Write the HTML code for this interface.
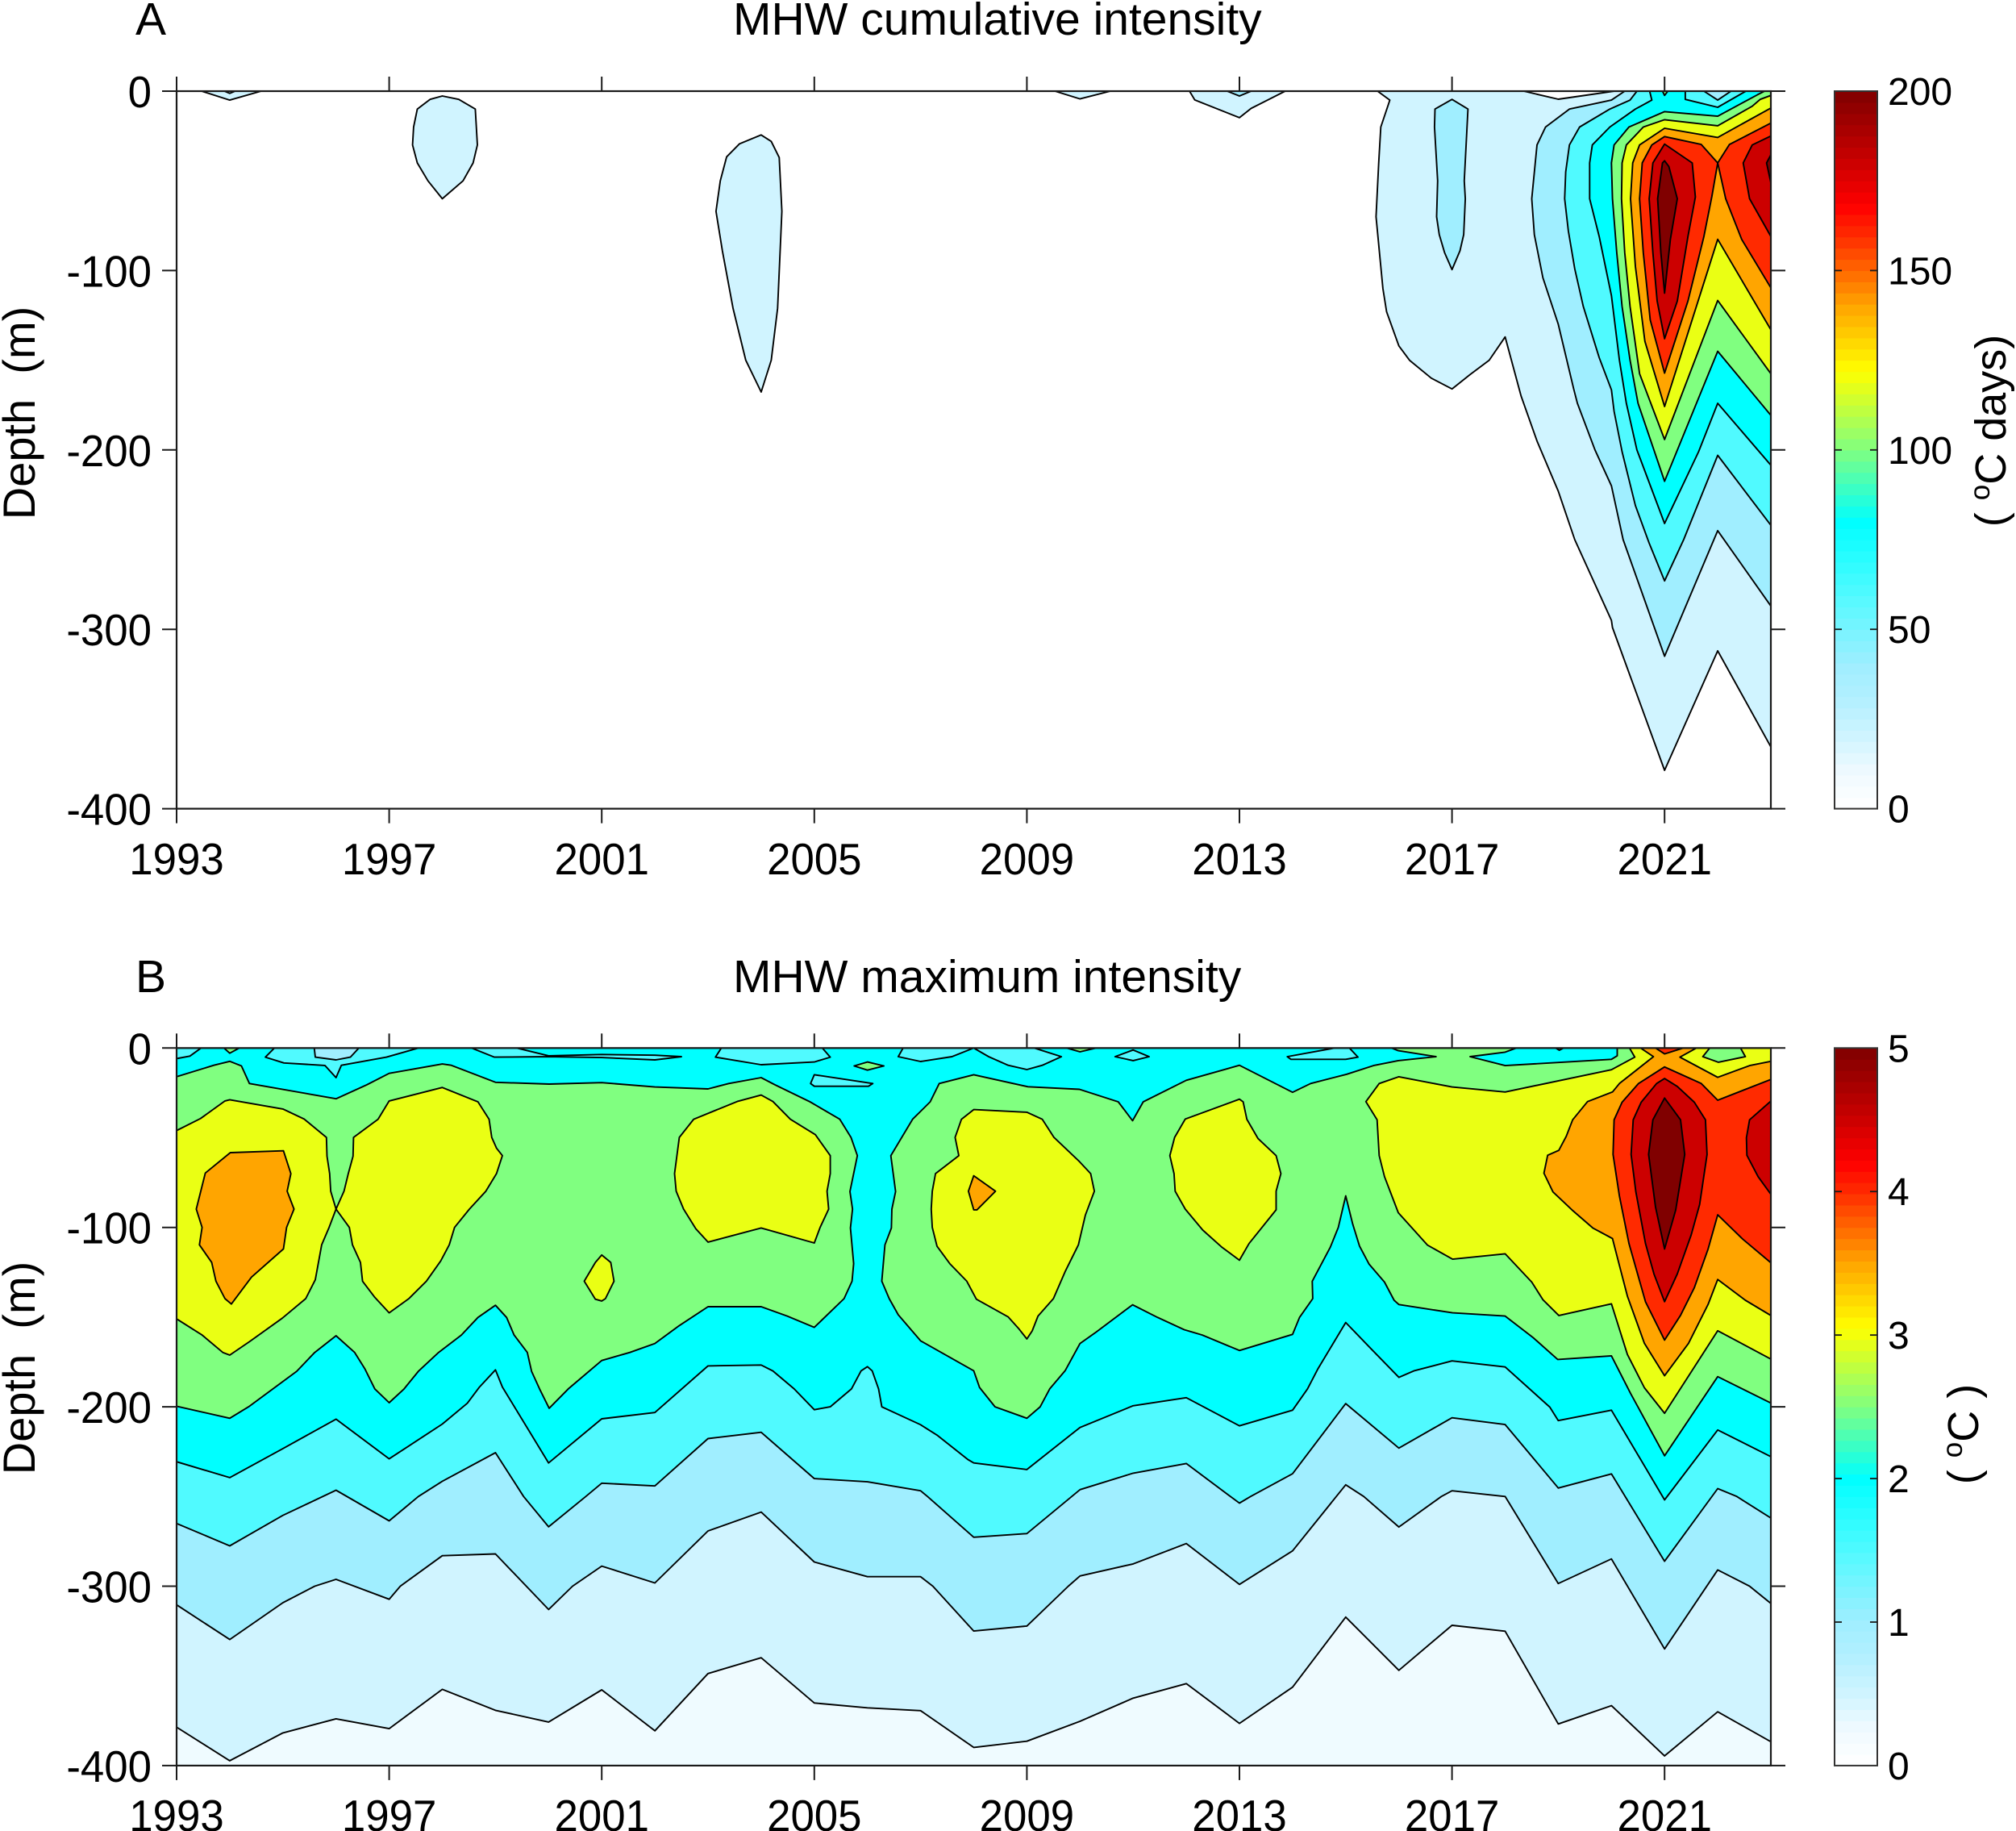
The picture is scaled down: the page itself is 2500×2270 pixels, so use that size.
<!DOCTYPE html>
<html lang="en">
<head>
<meta charset="utf-8">
<title>MHW cumulative and maximum intensity</title>
<style>
html,body{margin:0;padding:0;background:#fff;}
svg{display:block;font-family:"Liberation Sans",Arial,sans-serif;fill:#000;}
</style>
</head>
<body>
<svg id="figure" width="2500" height="2270" viewBox="0 0 2500 2270">
  <rect x="0" y="0" width="2500" height="2270" fill="#ffffff"/>
  <defs>
    <clipPath id="clip-a"><rect x="219" y="113" width="1977" height="889.6"/></clipPath>
    <clipPath id="clip-b"><rect x="219" y="1299.3" width="1977" height="889.6"/></clipPath>
  </defs>
  <g id="panel-a"></g>
  <g id="panel-b"></g>
  <text x="168" y="43" font-size="57">A</text>
  <text x="909" y="43" font-size="57">MHW cumulative intensity</text>
  <text x="168" y="1230" font-size="57">B</text>
  <text x="909" y="1230" font-size="57">MHW maximum intensity</text>
  <text transform="translate(43,512) rotate(-90)" text-anchor="middle" font-size="56">Depth&#160;&#160;(m)</text>
  <text transform="translate(43,1696) rotate(-90)" text-anchor="middle" font-size="56">Depth&#160;&#160;(m)</text>
  <text transform="translate(2487,534) rotate(-90)" text-anchor="middle" font-size="54">(&#160;<tspan dy="-20" font-size="35">o</tspan><tspan dy="20">C days)</tspan></text>
  <text transform="translate(2453,1778) rotate(-90)" text-anchor="middle" font-size="54">(&#160;<tspan dy="-20" font-size="35">o</tspan><tspan dy="20">C )</tspan></text>
</svg>
<script>
// ---------- axis data ----------
const yearTicks = [1993, 1997, 2001, 2005, 2009, 2013, 2017, 2021];
const depthTicks = [0, 100, 200, 300, 400];
const depthTickLabels = ['0', '-100', '-200', '-300', '-400'];
const colorbarTicksA = [0, 50, 100, 150, 200];
const colorbarTicksB = [0, 1, 2, 3, 4, 5];
const contourFills = ['#D0F4FF', '#A0EEFF', '#50FAFF', '#00FFFF', '#80FF80', '#EAFF14', '#FFA500', '#FF2A00', '#CC0000', '#800000'];
const colormapStops = [0, 0.05, 0.1, 0.15, 0.2, 0.3, 0.4, 0.5, 0.61, 0.7, 0.8, 0.84, 0.9, 1];
const colormapColors = ['#FFFFFF', '#F0FAFF', '#D0F4FF', '#B4F0FF', '#A0EEFF', '#50FAFF', '#00FFFF', '#80FF80', '#FFFF00', '#FFA500', '#FF2A00', '#FF0000', '#CC0000', '#7F0000'];

// ---------- panel A contours: flat [year, depth, ...] ----------
const a20 = [2015.6,0, 2015.83,5, 2015.66,20, 2015.62,40, 2015.57,70, 2015.7,110, 2015.77,123, 2016,142, 2016.2,150, 2016.61,160, 2017,166, 2017.34,158, 2017.7,150, 2018,137, 2018.3,170, 2018.6,195, 2019,223, 2019.31,250, 2020,295, 2020.02,299, 2021,378.6, 2022,312, 2023,365.5, 2023,0, 2020.05,0, 2019,4.5, 2018.35,0];
const a20Isle1994 = [1993.47,0, 1994,5, 1994.59,0];
const a20Isle1998 = [1998,2.7, 1997.77,4.6, 1997.53,10, 1997.46,20, 1997.44,30, 1997.53,40, 1997.73,50, 1998,60, 1998.39,50, 1998.58,40, 1998.66,30, 1998.62,10, 1998.31,4.6];
const a20Isle2004 = [2004,24.4, 2003.59,29.4, 2003.35,36.6, 2003.23,50, 2003.15,67, 2003.27,89, 2003.47,121, 2003.71,150, 2004,167.7, 2004.19,150, 2004.31,121, 2004.39,67, 2004.34,37, 2004.19,28];
const a20Isle2010 = [2009.53,0, 2010,4.3, 2010.57,0];
const a20Isle2013 = [2012.06,0, 2012.16,4.9, 2013,14.8, 2013.22,9.6, 2013.86,0];
const a40 = [2020.25,0, 2020,5, 2019.21,10, 2018.76,20, 2018.6,30, 2018.5,60, 2018.55,80, 2018.71,104, 2019,130, 2019.29,166, 2019.36,174, 2019.69,200, 2020,220, 2020.22,250, 2021,315, 2022,245, 2023,287, 2023,0];
const a40Isle1994 = [1993.9,0, 1994,1.2, 1994.1,0];
const a40Isle2013 = [2012.77,0, 2013,2.7, 2013.22,0];
const a40Isle2017 = [2017,4.6, 2016.68,10, 2016.67,20, 2016.73,50, 2016.71,70, 2016.76,80, 2016.86,90, 2017,99.5, 2017.15,89, 2017.22,80, 2017.25,60, 2017.23,50, 2017.3,10];
const a60 = [2020.48,0, 2020.35,5, 2019.97,10, 2019.4,20, 2019.21,30, 2019.14,45, 2019.12,60, 2019.19,78, 2019.31,99, 2019.47,120, 2019.77,148.5, 2020,166.5, 2020.05,178.5, 2020.2,201, 2020.45,231, 2020.71,252, 2021,273, 2021.36,250, 2022,203, 2023,242, 2023,0, 2022.25,0, 2022,5, 2021.74,0];
const a80 = [2020.72,0, 2020.76,5, 2020.45,10, 2019.97,20, 2019.64,30, 2019.59,40, 2019.59,60, 2019.77,81, 2020,114, 2020.15,150, 2020.28,174, 2020.48,200, 2021,241, 2021.64,201, 2022,174, 2023,208.5, 2023,0, 2022.53,0, 2022,9, 2021.39,4.6, 2021.39,0];
const a100 = [2021,11.4, 2020.33,20, 2020.05,30, 2020,40, 2020.02,60, 2020.1,90, 2020.2,120, 2020.35,150, 2020.5,174, 2021,217.5, 2022,145, 2023,180.7, 2023,0, 2022.88,0, 2022.75,2, 2022,14];
const a100Isle2021 = [2020.96,0, 2021,2.4, 2021.06,0];
const a120 = [2021,15.9, 2020.6,20, 2020.28,30, 2020.2,40, 2020.19,60, 2020.25,90, 2020.35,120, 2020.53,157.5, 2021,194.2, 2022,116.7, 2023,157.5, 2023,2.4, 2022.8,4.6, 2022.65,8.4, 2022,19.3];
const a140 = [2021,20.7, 2020.53,30, 2020.4,40, 2020.36,60, 2020.45,97.6, 2020.63,139.5, 2021,175.8, 2022,82.6, 2023,133, 2023,9.4, 2022,25.8];
const a160Left = [2021,25.3, 2020.76,30, 2020.58,40, 2020.53,60, 2020.6,90, 2020.73,127.5, 2021,157.2, 2021.44,117, 2021.74,81, 2021.89,58.6, 2022,40, 2021.69,29.7];
const a160Right = [2022,40, 2022.15,60, 2022.45,82.6, 2023,109.6, 2023,17.8, 2022.22,29.7];
const a180Left = [2021,29.5, 2020.78,40, 2020.71,60, 2020.78,90, 2020.86,117, 2021,138, 2021.24,117, 2021.44,81, 2021.58,59, 2021.52,40];
const a180Right = [2022.65,30, 2022.48,40, 2022.6,60, 2023,81, 2023,25];
const a200Left = [2021,38.8, 2021.08,42, 2021.24,60, 2021.11,82.6, 2021,112.6, 2020.93,90, 2020.87,60, 2020.96,40];
const a200Right = [2022.92,40, 2023,35.5, 2023,51];

// ---------- panel B contours: flat [year, depth, ...] ----------
const b05 = [1993,378.6, 1994,397.3, 1995,381.8, 1996,373.9, 1997,379.4, 1998,357.5, 1999,369.2, 2000,375.7, 2001,357.8, 2002,380.6, 2003,348.7, 2004,339.9, 2005,365.1, 2006,367.8, 2007,369.4, 2008,389.9, 2009,386.4, 2010,375.3, 2011,362.4, 2012,354.3, 2013,376.5, 2014,356.3, 2015,317.2, 2016,346.9, 2017,321.8, 2018,325.1, 2019,376.8, 2020,366.6, 2021,394.6, 2022,370, 2023,386.7];
const b10 = [1993,310.4, 1994,329.7, 1995,309.2, 1995.6,300, 1996,296.2, 1997,307.3, 1997.21,300, 1998,283, 1999,282, 2000,313, 2000.45,300, 2001,288.8, 2002,298.2, 2003,269.2, 2004,258.7, 2005,286.5, 2006,294.7, 2007,294.7, 2007.23,300, 2008,325, 2009,322.2, 2009.78,300, 2010,294.3, 2011,287.6, 2012,276.2, 2013,299, 2014,280.3, 2015,243.5, 2015.34,250, 2016,267, 2016.8,250, 2017,246.8, 2018,250, 2019,298.5, 2020,284.8, 2021,335, 2022,290.9, 2022.6,300, 2023,309.6];
const b15 = [1993,265, 1994,277.5, 1995,260.5, 1996,246.5, 1997,263.6, 1997.55,250, 1998,241.5, 1999,225.6, 1999.53,250, 2000,266.9, 2000.7,250, 2001,242.6, 2002,244.1, 2003,217.7, 2004,214.2, 2005,240, 2006,241.8, 2007,246.8, 2007.13,250, 2008,272.7, 2009,270.7, 2010,246.2, 2011,237, 2012,231.6, 2012.83,250, 2013,253.7, 2013.21,250, 2014,237.3, 2015,198.2, 2016,223, 2017,206.1, 2018,209.9, 2019,245.3, 2020,237.4, 2021,286.1, 2022,245.6, 2022.36,250, 2023,262];
const b20 = [1993,230.6, 1994,239.5, 1995,223.3, 1996,206.9, 1997,229, 1998,209.6, 1998.47,198, 1998.7,189, 1999,179.4, 1999.13,189, 2000,231.3, 2001,206.7, 2002,203.2, 2003,177.2, 2004,176.7, 2004.22,180, 2004.62,190, 2005,201.6, 2005.3,200, 2005.7,190, 2005.88,180, 2006,177.6, 2006.09,180, 2006.21,190, 2006.27,200, 2007,210, 2007.32,216, 2007.89,229.4, 2008,231.3, 2009,235, 2010,211.5, 2011,199.4, 2012,194.9, 2013,210.6, 2014,201.9, 2014.28,190, 2014.48,178.7, 2015,153, 2015.5,168.4, 2016,183.6, 2016.28,180, 2017,174.4, 2018,177.8, 2018.84,200.2, 2019,207.7, 2020,201.9, 2021,251.9, 2022,212.9, 2023,227.8];
const b25West = [1993,16, 1993.7,9.6, 1994,7.4, 1994.22,10, 1994.37,19.8, 1996,28.3, 1996.58,20.5, 1997,14.1, 1998,8.9, 1998.17,9.6, 1999,19.1, 2000.01,20.1, 2001,19.3, 2002,21.7, 2003,22.8, 2003.39,19.8, 2004,16.5, 2004.26,20.5, 2004.92,30, 2005.48,39.7, 2005.69,49.8, 2005.81,60, 2005.67,80, 2005.72,89.8, 2005.68,100.3, 2005.74,120.2, 2005.71,130, 2005.56,139.7, 2005,155.7, 2004.49,149.4, 2004,144.2, 2003,144.2, 2002.46,154.7, 2002,164.7, 2001.53,169.7, 2001,174.2, 2000.37,190, 2000.01,200.8, 1999.83,190, 1999.68,180.2, 1999.6,169.7, 1999.35,160, 1999.21,150.2, 1999,143.4, 1998.67,150.2, 1998.36,160, 1997.93,169.7, 1997.55,180.2, 1997.28,190, 1997,197.7, 1996.73,190, 1996.54,178.7, 1996.35,169.7, 1996,160.4, 1995.6,169.7, 1995.26,180.2, 1994.37,199.7, 1994,206.4, 1993,199.7];
const b25East = [2006.27,130, 2006.33,109.7, 2006.45,100.3, 2006.46,89.8, 2006.53,80, 2006.44,60, 2006.85,39.7, 2007.18,30, 2007.35,19.8, 2008,14.9, 2009.02,21.6, 2009.99,23, 2010.72,30, 2010.99,40.5, 2011.19,30, 2012,18, 2013,9.6, 2014,24.7, 2014.34,19.8, 2015.02,14.6, 2015.52,9.8, 2015.99,7, 2016.7,4.8, 2015.99,1.5, 2015.86,0, 2018.21,0, 2018,2.3, 2017.34,4.8, 2018,9.8, 2020,6.3, 2020.11,4.3, 2020.11,0, 2023,0, 2023,197.9, 2022,183.2, 2021,227.3, 2020.36,192.5, 2020,171.6, 2018.99,173.6, 2018.53,161.5, 2018,149.4, 2017.01,147.6, 2016,143, 2015.91,140.6, 2015.73,130.5, 2015.44,120.5, 2015.26,110.4, 2015.13,98, 2015,82.4, 2014.86,100, 2014.71,111, 2014.37,130, 2014.38,139.7, 2014.13,150.2, 2014,159.6, 2013,168.6, 2012.3,160, 2011.96,157, 2011.46,150.2, 2010.99,143.1, 2010.3,158.4, 2010,164.7, 2009.72,179.9, 2009.43,190, 2009.25,200, 2009,206.4, 2008.4,200, 2008.11,189.2, 2008,179.9, 2007,163.2, 2006.58,148.7, 2006.41,139.7];
const b30Blob1994 = [1993,46, 1993.45,39.3, 1993.91,29.5, 1994,28.8, 1995,34, 1995.4,39.6, 1995.82,49.8, 1995.83,60.3, 1995.88,70, 1995.9,79.8, 1996,89.8, 1995.87,100, 1995.73,109.7, 1995.61,129.2, 1995.43,139.7, 1994.99,150.6, 1994.37,163.7, 1994,171.2, 1993.87,169.7, 1993.48,160, 1993,151];
const b30Blob1998 = [1996,89.8, 1996.15,79.8, 1996.23,70, 1996.32,60.3, 1996.33,49.8, 1996.79,39.7, 1997,29.5, 1998,22, 1998.67,30, 1998.88,39.7, 1998.93,49.8, 1999.02,55.8, 1999.13,60, 1999.02,70, 1998.82,79.8, 1998.51,89.8, 1998.23,100, 1998.13,109.7, 1997.97,118.7, 1997.7,130, 1997.37,139.7, 1997,147.6, 1996.73,139, 1996.5,130, 1996.46,119.5, 1996.31,109.7, 1996.25,100];
const b30Blob2001 = [2001,115.4, 2000.88,119.5, 2000.67,130, 2000.88,140, 2001,141, 2001.07,139.7, 2001.23,130, 2001.17,119.5];
const b30Blob2004 = [2003,108.2, 2002.77,100.7, 2002.54,89.8, 2002.4,79.8, 2002.37,70, 2002.46,49.8, 2002.73,39.7, 2003.55,29.8, 2004,26.2, 2004.22,29.8, 2004.55,39.7, 2005.02,48.3, 2005.3,60, 2005.3,70, 2005.24,79.8, 2005.27,89.8, 2005.11,100, 2005,108.7, 2004,100.3];
const b30Blob2009 = [2008,34.3, 2009,35.8, 2009.29,39.7, 2009.51,49.8, 2009.99,63.3, 2010.2,70, 2010.27,79.8, 2010.1,93.2, 2009.97,109.7, 2009.72,124.7, 2009.5,139.7, 2009.21,149.4, 2009.1,157.7, 2009,162.2, 2008.84,156.2, 2008.65,149.9, 2008.05,140, 2007.87,130, 2007.55,120.2, 2007.31,110.5, 2007.22,100, 2007.2,89.8, 2007.22,79.8, 2007.28,70, 2007.72,60, 2007.65,49.8, 2007.77,39.7];
const b30Blob2013 = [2013,28.5, 2011.98,39.6, 2011.78,49.8, 2011.69,60, 2011.77,70, 2011.79,79.8, 2011.98,89.8, 2012.31,101.5, 2012.66,110.8, 2013,118.3, 2013.18,109, 2013.69,90.2, 2013.69,79.8, 2013.78,70, 2013.69,60, 2013.35,50.5, 2013.14,39.7, 2013.07,30];
const b30Blob2018 = [2016,16, 2015.63,19.8, 2015.38,29.9, 2015.59,40, 2015.63,60, 2015.73,71.7, 2015.99,91.8, 2016.54,109.9, 2017.01,117.7, 2018,114.7, 2018.5,130.5, 2018.71,140.3, 2019.01,149.1, 2020,142.6, 2020.3,170.8, 2020.62,189.4, 2021,203.6, 2022,157.6, 2023,173.4, 2023,0, 2020.34,0, 2020.44,5.1, 2020,12.1, 2018,24.5, 2017,21.7];
const b35Spot2008 = [2008,71.2, 2007.9,79.8, 2008,90.2, 2008.06,90.2, 2008.41,79.8];
const b35Main = [2020.55,0, 2020.79,4.8, 2020.15,19.8, 2020.02,24.5, 2019.55,29.9, 2019.27,40, 2019.15,49.2, 2019.01,57, 2018.8,59.8, 2018.73,69.8, 2018.9,80.2, 2019.26,90.3, 2019.65,100.3, 2020.02,106.2, 2020.15,121.2, 2020.3,138.3, 2020.62,164.6, 2021,182.7, 2021.45,164.6, 2021.82,142.9, 2022,129, 2022.52,140.6, 2023,149.1, 2023,7.4, 2022.6,9.8, 2022,16.3, 2021.29,5.1, 2021.6,0];
const b35West = [1994.01,58.3, 1995.01,57.3, 1995.15,70, 1995.08,79.8, 1995.21,89.8, 1995.07,100, 1995.01,112, 1994.41,127.7, 1994.03,142.7, 1993.91,139.7, 1993.74,130, 1993.66,119.5, 1993.43,109.7, 1993.48,100, 1993.37,89.8, 1993.54,69.7];
const b40 = [2021,10.5, 2020.51,19.8, 2020.2,30.2, 2020.05,40, 2020.03,59.3, 2020.15,82.5, 2020.33,108.9, 2020.64,141.4, 2021,162.8, 2021.3,149, 2021.56,133.6, 2021.82,112, 2022,93, 2022.47,106.5, 2023,119.7, 2023,17.5, 2022,29.1, 2021.69,19.8];
const b40IsleTop = [2020.83,0, 2021,3.3, 2021.35,0];
const b45Left = [2021,17, 2020.85,19.8, 2020.56,30.2, 2020.41,40, 2020.37,59.3, 2020.46,80.2, 2020.64,108.9, 2020.8,125.9, 2021,141.4, 2021.24,125.9, 2021.5,104.2, 2021.66,87.2, 2021.8,59.3, 2021.77,40, 2021.56,30.2, 2021.24,21.4];
const b45Right = [2023,29.6, 2022.6,40, 2022.54,50, 2022.55,59.8, 2022.76,71.7, 2023,81.5];
const b50 = [2021,27.9, 2020.78,40, 2020.7,59.3, 2020.83,88.7, 2021,112, 2021.21,90.3, 2021.38,59.3, 2021.3,40];
const b15Isle1993 = [1993,0, 1993,5.9, 1993.25,4.5, 1993.46,0];
const b25Isle1994 = [1993.89,0, 1994,2.9, 1994.18,0];
const b15Isle1996 = [1994.84,0, 1994.67,5.1, 1995.02,8.3, 1995.79,9.7, 1996,16.5, 1996.1,9.6, 1996.95,5.1, 1997.55,0];
const b10Isle1996 = [1995.59,0, 1995.61,5.1, 1996,6.6, 1996.27,5.1, 1996.43,0];
const b15Isle1999 = [1998.55,0, 1998.98,5.1, 2000,4.8, 2001,5.3, 2002,6.6, 2002.5,4.8, 2002,4, 2001,3.6, 2000,4.3, 1999.4,0];
const b15Isle2004 = [2003.25,0, 2003.14,5.1, 2004,9.3, 2005,7.8, 2005.3,5.1, 2005.15,0];
const b25Isle2006 = [2006,7.8, 2005.75,10, 2006,12.3, 2006.31,10];
const b15Isle2005 = [2005,14.9, 2004.93,19.8, 2005,21.3, 2006.02,21.3, 2006.1,19.8];
const b15Isle2008 = [2006.67,0, 2006.58,4.8, 2007,7.5, 2007.59,4.8, 2008,0, 2008.28,4.8, 2008.65,9.6, 2009,12, 2009.29,9.6, 2009.65,4.8, 2009.14,0];
const b25Isle2010 = [2009.75,0, 2010,2.1, 2010.3,0];
const b15Isle2011 = [2011,1.1, 2010.66,4.8, 2011,7, 2011.3,4.8];
const b15Isle2015 = [2014.79,0, 2013.9,4.8, 2013.97,6.3, 2015,6.3, 2015.23,5.1, 2015.07,0];
const b25Isle2019 = [2018.95,0, 2019.02,1.2, 2019.1,0];
const b25Isle2022 = [2021.85,0, 2021.72,4.8, 2022.01,7.9, 2022.52,4.8, 2022.43,0];

// layer order = painter's order, [name, contour, level]
const panelALayers = [
  ['level-20', a20, 20], ['isle-1994', a20Isle1994, 20], ['isle-1998', a20Isle1998, 20], ['isle-2004', a20Isle2004, 20], ['isle-2010', a20Isle2010, 20], ['isle-2013', a20Isle2013, 20],
  ['level-40', a40, 40], ['level-40-isle-1994', a40Isle1994, 40], ['level-40-isle-2013', a40Isle2013, 40], ['level-40-isle-2017', a40Isle2017, 40],
  ['level-60', a60, 60], ['level-80', a80, 80], ['level-100', a100, 100], ['level-100-isle', a100Isle2021, 100],
  ['level-120', a120, 120], ['level-140', a140, 140], ['level-160-left', a160Left, 160], ['level-160-right', a160Right, 160],
  ['level-180-left', a180Left, 180], ['level-180-right', a180Right, 180], ['level-200-left', a200Left, 200], ['level-200-right', a200Right, 200]
];
const panelBBands = [['level-0-5', b05, 0.5], ['level-1-0', b10, 1], ['level-1-5', b15, 1.5], ['level-2-0', b20, 2]];
const panelBLayers = [
  ['level-2-5-west', b25West, 2.5], ['level-2-5-east', b25East, 2.5],
  ['level-3-0-1994', b30Blob1994, 3], ['level-3-0-1998', b30Blob1998, 3], ['level-3-0-2001', b30Blob2001, 3], ['level-3-0-2004', b30Blob2004, 3], ['level-3-0-2009', b30Blob2009, 3], ['level-3-0-2013', b30Blob2013, 3], ['level-3-0-2018', b30Blob2018, 3],
  ['level-3-5-1994', b35West, 3.5], ['level-3-5-2008', b35Spot2008, 3.5], ['level-3-5-main', b35Main, 3.5],
  ['level-4-0', b40, 4], ['level-4-0-top', b40IsleTop, 4], ['level-4-5-left', b45Left, 4.5], ['level-4-5-right', b45Right, 4.5], ['level-5-0', b50, 5],
  ['isle-1993', b15Isle1993, 1.5], ['isle-1994', b25Isle1994, 2.5], ['isle-1996', b15Isle1996, 1.5], ['isle-1996-inner', b10Isle1996, 1], ['isle-1999', b15Isle1999, 1.5], ['isle-2004', b15Isle2004, 1.5], ['isle-2006', b25Isle2006, 2.5], ['isle-2005', b15Isle2005, 1.5], ['isle-2008', b15Isle2008, 1.5], ['isle-2010', b25Isle2010, 2.5], ['isle-2011', b15Isle2011, 1.5], ['isle-2015', b15Isle2015, 1.5], ['isle-2019', b25Isle2019, 2.5], ['isle-2022', b25Isle2022, 2.5]
];

// ---------- axis functions ----------
const svgRoot = document.getElementById('figure');
const NS = svgRoot.namespaceURI;
const plotLeft = 219, plotRight = 2196, plotHeight = 889.6;
const yearMin = 1993, yearMax = 2023, depthMax = 400;
function xOf(year) { return plotLeft + (year - yearMin) * (plotRight - plotLeft) / (yearMax - yearMin); }
function yOf(depth, top) { return top + depth * plotHeight / depthMax; }

function make(parent, tag, attrs) {
  const el = document.createElementNS(NS, tag);
  for (const k in attrs) el.setAttribute(k, attrs[k]);
  parent.appendChild(el);
  return el;
}
function pathFrom(flat, top) {
  let d = '';
  for (let i = 0; i < flat.length; i += 2) {
    d += (i ? 'L' : 'M') + xOf(flat[i]).toFixed(1) + ' ' + yOf(flat[i + 1], top).toFixed(1);
  }
  return d + 'Z';
}
function drawLayer(parent, prefix, name, flat, level, step, top) {
  const fill = contourFills[Math.round(level / step) - 1];
  const p = make(parent, 'path', { d: pathFrom(flat, top), fill: fill, stroke: '#000', 'stroke-width': 1.9, 'stroke-linejoin': 'round' });
  
  
}
function colormapAt(t) {
  let i = 0;
  while (i < colormapStops.length - 2 && t > colormapStops[i + 1]) i++;
  const f = (t - colormapStops[i]) / (colormapStops[i + 1] - colormapStops[i]);
  const a = colormapColors[i], b = colormapColors[i + 1];
  let out = '#';
  for (let c = 1; c < 7; c += 2) {
    const va = parseInt(a.substr(c, 2), 16), vb = parseInt(b.substr(c, 2), 16);
    out += Math.round(va + (vb - va) * f).toString(16).padStart(2, '0');
  }
  return out;
}
function drawText(parent, name, x, y, str, anchor, size, sx) {
  const t = make(parent, 'text', { transform: 'translate(' + x + ',' + y + ') scale(' + sx + ',1)', 'text-anchor': anchor, 'font-size': size });
  t.textContent = str;
  
  
}
function drawLine(parent, name, x1, y1, x2, y2, w) {
  const l = make(parent, 'line', { x1: x1, y1: y1, x2: x2, y2: y2, stroke: '#1a1a1a', 'stroke-width': w });
  
  
}
function drawAxes(parent, prefix, top, labelBaseline) {
  const bottom = top + plotHeight;
  const frame = make(parent, 'rect', { x: plotLeft, y: top, width: plotRight - plotLeft, height: plotHeight, fill: 'none', stroke: '#1a1a1a', 'stroke-width': 2.2 });
  
  
  yearTicks.forEach(function (yr) {
    const x = xOf(yr);
    drawLine(parent, prefix + '-top-tick-' + yr, x, top - 18, x, top, 2);
    drawLine(parent, prefix + '-bottom-tick-' + yr, x, bottom, x, bottom + 18, 2);
    drawText(parent, prefix + '-x-tick-label-' + yr, x, labelBaseline, String(yr), 'middle', 55, 0.96);
  });
  depthTicks.forEach(function (dp, i) {
    const y = yOf(dp, top);
    drawLine(parent, prefix + '-left-tick-' + dp, plotLeft - 18, y, plotLeft, y, 2);
    drawLine(parent, prefix + '-right-tick-' + dp, plotRight, y, plotRight + 18, y, 2);
    drawText(parent, prefix + '-y-tick-label-' + dp, 188, y + 20, depthTickLabels[i], 'end', 55, 0.96);
  });
}
function drawColorbar(parent, prefix, top, ticks, maxValue) {
  const barLeft = 2275, barRight = 2328, rows = 64;
  const g = make(parent, 'g', {});
  
  
  for (let r = 0; r < rows; r++) {
    const h = plotHeight / rows;
    const cell = make(g, 'rect', { x: barLeft, y: (top + plotHeight - (r + 1) * h).toFixed(2), width: barRight - barLeft, height: (h + 0.6).toFixed(2), fill: colormapAt((r + 0.5) / rows) });
    
    
  }
  const box = make(g, 'rect', { x: barLeft, y: top, width: barRight - barLeft, height: plotHeight, fill: 'none', stroke: '#333', 'stroke-width': 2 });
  
  
  ticks.forEach(function (v) {
    const y = top + plotHeight - v / maxValue * plotHeight;
    if (v > 0 && v < maxValue) {
      drawLine(g, prefix + '-colorbar-tick-left-' + v, barLeft, y, barLeft + 9, y, 1.8);
      drawLine(g, prefix + '-colorbar-tick-right-' + v, barRight - 9, y, barRight, y, 1.8);
    }
    drawText(g, prefix + '-colorbar-label-' + v, 2341, y + 17, String(v), 'start', 48, 1);
  });
}

// ---------- render ----------
const topA = 113, topB = 1299.3;
const panelA = document.getElementById('panel-a');
const panelB = document.getElementById('panel-b');

const plotA = make(panelA, 'g', { 'clip-path': 'url(#clip-a)' });


panelALayers.forEach(function (layer) {
  drawLayer(plotA, 'panel-a', layer[0], layer[1], layer[2], 20, topA);
});
drawAxes(panelA, 'panel-a', topA, 1084);
drawColorbar(panelA, 'panel-a', topA, colorbarTicksA, 200);

const plotB = make(panelB, 'g', { 'clip-path': 'url(#clip-b)' });


const plotBBackground = make(plotB, 'rect', { x: plotLeft, y: topB, width: plotRight - plotLeft, height: plotHeight, fill: '#EFFBFF' });


panelBBands.forEach(function (band) {
  const closed = band[1].concat([yearMax, 0, yearMin, 0]);
  drawLayer(plotB, 'panel-b', band[0], closed, band[2], 0.5, topB);
});
panelBLayers.forEach(function (layer) {
  drawLayer(plotB, 'panel-b', layer[0], layer[1], layer[2], 0.5, topB);
});
drawAxes(panelB, 'panel-b', topB, 2270);
drawColorbar(panelB, 'panel-b', topB, colorbarTicksB, 5);
</script>
</body>
</html>
